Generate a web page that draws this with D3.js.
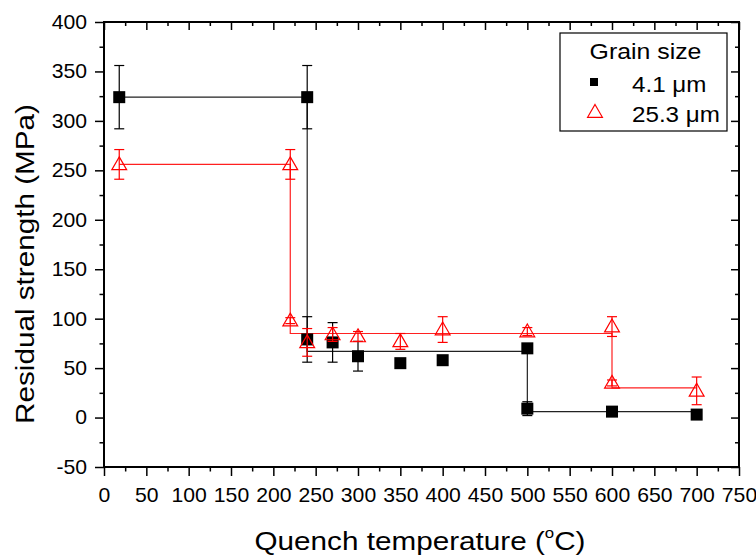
<!DOCTYPE html>
<html>
<head>
<meta charset="utf-8">
<script src="https://cdn.jsdelivr.net/npm/d3@7"></script>
<style>
  body { margin: 0; background: #fff; }
  svg { font-family: "Liberation Sans", Arial, sans-serif; }
</style>
</head>
<body>
<svg id="chart"></svg>
<script>
// 4.1 um grain size (black squares)
var tempA     = [18, 240, 240, 270, 300, 350, 400, 500, 500, 600, 700];
var strengthA = [324, 324, 79, 76, 62, 55, 58, 70, 9, 6, 3];
var errA      = [32, 32, 23, 20, 15, 3, 3, 3, 7, 2, 2];
var stepTempA = [18, 240, 240, 500, 500, 700];
var stepValA  = [324, 324, 67, 67, 6, 6];

// 25.3 um grain size (red triangles)
var tempB     = [18, 220, 220, 240, 270, 300, 350, 400, 500, 600, 600, 700];
var strengthB = [256, 256, 98, 76, 84, 82, 77, 89, 87, 92, 35, 27];
var errB      = [15, 15, 3, 14, 7, 5, 8, 13, 4, 10, 3, 14];
var stepTempB = [18, 220, 220, 600, 600, 700];
var stepValB  = [256, 256, 85, 85, 30, 30];

var seriesNames = ["4.1 \u03bcm", "25.3 \u03bcm"];
var xTicks = d3.range(0, 751, 50);
var yTicks = d3.range(-50, 401, 50);

var W = 756, H = 558;
var margin = {top: 22, right: 17, bottom: 91, left: 104};
var SX = 1.12;  // glyphs in the original are a bit wider than Arial
var TX = 1.06;  // same for tick labels

var svg = d3.select("#chart").attr("width", W).attr("height", H);

var x = d3.scaleLinear().domain([0, 750]).range([margin.left, W - margin.right]);
var y = d3.scaleLinear().domain([-50, 400]).range([H - margin.bottom, margin.top]);

var x0 = x.range()[0], x1 = x.range()[1], y0 = y.range()[0], y1 = y.range()[1];

var xMinor = d3.range(25, 750, 50);
var yMinor = d3.range(-25, 400, 50);
var fmt = function(d) { return String(d); };

function plain(g) {
  g.select(".domain").remove();
  g.selectAll("line").attr("stroke-width", 1.5);
}

// bottom axis
svg.append("g")
    .attr("transform", "translate(0," + y0 + ")")
    .call(d3.axisBottom(x).tickValues(xTicks).tickSize(9).tickPadding(12).tickFormat(fmt))
    .call(plain)
    .call(function(g) {
      g.selectAll("text").attr("font-size", 20).attr("font-family", "Liberation Sans, Arial, sans-serif")
        .attr("fill", "#000").attr("dy", "0.71em").attr("y", 21)
        .attr("transform", "scale(" + TX + ",1)");
    });
svg.append("g")
    .attr("transform", "translate(0," + y0 + ")")
    .call(d3.axisBottom(x).tickValues(xMinor).tickSize(4.5).tickFormat(""))
    .call(plain);

// left axis
svg.append("g")
    .attr("transform", "translate(" + x0 + ",0)")
    .call(d3.axisLeft(y).tickValues(yTicks).tickSize(9).tickFormat(fmt))
    .call(plain)
    .call(function(g) {
      g.selectAll("text").attr("font-size", 20).attr("font-family", "Liberation Sans, Arial, sans-serif")
        .attr("fill", "#000").attr("x", -17 / TX)
        .attr("transform", "scale(" + TX + ",1)");
    });
svg.append("g")
    .attr("transform", "translate(" + x0 + ",0)")
    .call(d3.axisLeft(y).tickValues(yMinor).tickSize(4.5).tickFormat(""))
    .call(plain);

// top and right mirror ticks (inward)
svg.append("g")
    .attr("transform", "translate(0," + y1 + ")")
    .call(d3.axisTop(x).tickValues(xTicks).tickSize(-8).tickFormat(""))
    .call(plain);
svg.append("g")
    .attr("transform", "translate(0," + y1 + ")")
    .call(d3.axisTop(x).tickValues(xMinor).tickSize(-4).tickFormat(""))
    .call(plain);
svg.append("g")
    .attr("transform", "translate(" + x1 + ",0)")
    .call(d3.axisRight(y).tickValues(yTicks).tickSize(-8).tickFormat(""))
    .call(plain);
svg.append("g")
    .attr("transform", "translate(" + x1 + ",0)")
    .call(d3.axisRight(y).tickValues(yMinor).tickSize(-4).tickFormat(""))
    .call(plain);

// frame
svg.append("rect")
    .attr("x", x0).attr("y", y1)
    .attr("width", x1 - x0).attr("height", y0 - y1)
    .attr("fill", "none").attr("stroke", "#000").attr("stroke-width", 2);

// axis titles
svg.append("text")
    .attr("transform", "translate(420,550) scale(" + SX + ",1)")
    .attr("text-anchor", "middle")
    .attr("font-size", 26.5)
    .html("Quench temperature (<tspan font-size='15' dy='-12'>o</tspan><tspan dy='12'>C)</tspan>");

svg.append("text")
    .attr("transform", "translate(33.5,264) rotate(-90) scale(" + SX + ",1)")
    .attr("text-anchor", "middle")
    .attr("font-size", 26.5)
    .text("Residual strength (MPa)");

// step lines
var line = d3.line().x(function(d) { return x(d[0]); }).y(function(d) { return y(d[1]); });
svg.append("path")
    .datum(d3.zip(stepTempA, stepValA))
    .attr("d", line).attr("fill", "none").attr("stroke", "#222").attr("stroke-width", 1.2);
svg.append("path")
    .datum(d3.zip(stepTempB, stepValB))
    .attr("d", line).attr("fill", "none").attr("stroke", "#ff2020").attr("stroke-width", 1.2);

// error bars
function errorBars(temps, vals, errs, color) {
  var data = d3.zip(temps, vals, errs);
  var g = svg.append("g").attr("stroke", color).attr("stroke-width", 1.2);
  g.selectAll(".v").data(data).enter().append("line")
      .attr("x1", function(d) { return x(d[0]); }).attr("x2", function(d) { return x(d[0]); })
      .attr("y1", function(d) { return y(d[1] + d[2]); }).attr("y2", function(d) { return y(d[1] - d[2]); });
  g.selectAll(".t").data(data).enter().append("line")
      .attr("x1", function(d) { return x(d[0]) - 5; }).attr("x2", function(d) { return x(d[0]) + 5; })
      .attr("y1", function(d) { return y(d[1] + d[2]); }).attr("y2", function(d) { return y(d[1] + d[2]); });
  g.selectAll(".b").data(data).enter().append("line")
      .attr("x1", function(d) { return x(d[0]) - 5; }).attr("x2", function(d) { return x(d[0]) + 5; })
      .attr("y1", function(d) { return y(d[1] - d[2]); }).attr("y2", function(d) { return y(d[1] - d[2]); });
}
errorBars(tempA, strengthA, errA, "#000");

// black squares
svg.selectAll(".sq").data(d3.zip(tempA, strengthA)).enter().append("rect")
    .attr("x", function(d) { return x(d[0]) - 6; })
    .attr("y", function(d) { return y(d[1]) - 6; })
    .attr("width", 12).attr("height", 12)
    .attr("fill", "#000");

errorBars(tempB, strengthB, errB, "#ff0000");

// red open triangles
var tri = d3.symbol().type(d3.symbolTriangle).size(95);
svg.selectAll(".tri").data(d3.zip(tempB, strengthB)).enter().append("path")
    .attr("d", tri)
    .attr("transform", function(d) { return "translate(" + x(d[0]) + "," + (y(d[1]) + 1) + ")"; })
    .attr("fill", "none").attr("stroke", "#ff0000").attr("stroke-width", 1.2);

// legend
var lg = svg.append("g");
lg.append("rect")
    .attr("x", 560).attr("y", 33).attr("width", 167).attr("height", 98)
    .attr("fill", "#fff").attr("stroke", "#000").attr("stroke-width", 1.2);
lg.append("text").attr("transform", "translate(645.5,59) scale(1.13,1)").attr("text-anchor", "middle")
    .attr("font-size", 22).text("Grain size");
lg.append("rect").attr("x", 590).attr("y", 78).attr("width", 8).attr("height", 8).attr("fill", "#000");
lg.append("text").attr("transform", "translate(632,91.5) scale(1.1,1)").attr("font-size", 22).text(seriesNames[0]);
lg.append("path").attr("d", d3.symbol().type(d3.symbolTriangle).size(95))
    .attr("transform", "translate(595,113)")
    .attr("fill", "none").attr("stroke", "#ff0000").attr("stroke-width", 1.2);
lg.append("text").attr("transform", "translate(632,121.5) scale(1.1,1)").attr("font-size", 22).text(seriesNames[1]);
</script>
</body>
</html>
